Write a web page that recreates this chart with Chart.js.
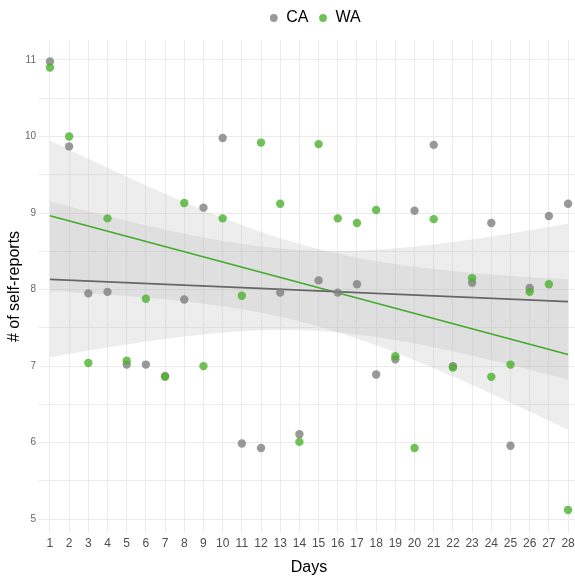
<!DOCTYPE html>
<html>
<head>
<meta charset="utf-8">
<script src="https://cdn.jsdelivr.net/npm/chart.js@4.4.0/dist/chart.umd.min.js"></script>
<style>
  html, body { margin: 0; padding: 0; background: #fff; overflow: hidden; }
  canvas { display: block; }
</style>
</head>
<body>
<canvas id="myChart" width="630" height="579" style="width:630px;height:579px"></canvas>
<script>
'use strict';

// values
let days = [1, 2, 3, 4, 5, 6, 7, 8, 9, 10, 11, 12, 13, 14, 15, 16, 17, 18, 19, 20, 21, 22, 23, 24, 25, 26, 27, 28];
let caValues = [10.98, 9.87, 7.95, 7.97, 7.02, 7.02, 6.87, 7.87, 9.07, 9.98, 5.99, 5.93, 7.96, 6.11, 8.12, 7.96, 8.07, 6.89, 7.09, 9.03, 9.89, 7.00, 8.09, 8.87, 5.96, 8.02, 8.96, 9.12];
let waValues = [10.90, 10.00, 7.04, 8.93, 7.07, 7.88, 6.86, 9.13, 7.00, 8.93, 7.92, 9.92, 9.12, 6.01, 9.90, 8.93, 8.87, 9.04, 7.13, 5.93, 8.92, 6.98, 8.15, 6.86, 7.02, 7.97, 8.07, 5.12];
let seriesNames = ['CA', 'WA'];
let yGridLines = [5, 5.5, 6, 6.5, 7, 7.5, 8, 8.5, 9, 9.5, 10, 10.5, 11];
let yTickLabels = [5, 6, 7, 8, 9, 10, 11];

// t quantile for the 95% band, 26 degrees of freedom
let tValue = 2.0555;

let ctx = document.getElementById('myChart').getContext('2d');
Chart.defaults.font.family = "'Liberation Sans', Arial, sans-serif";

// least squares fit, like geom_smooth(method = 'lm')
function linearFit(xs, ys) {
  let n = xs.length;
  let xMean = xs.reduce((s, v) => s + v, 0) / n;
  let yMean = ys.reduce((s, v) => s + v, 0) / n;
  let sxx = 0;
  let sxy = 0;
  for (let i = 0; i < n; i++) {
    sxx += (xs[i] - xMean) ** 2;
    sxy += (xs[i] - xMean) * (ys[i] - yMean);
  }
  let slope = sxy / sxx;
  let intercept = yMean - slope * xMean;
  let sse = 0;
  for (let i = 0; i < n; i++) {
    sse += (ys[i] - intercept - slope * xs[i]) ** 2;
  }
  return { n, xMean, sxx, slope, intercept, sigma: Math.sqrt(sse / (n - 2)) };
}

function fitAt(fit, x) {
  return fit.intercept + fit.slope * x;
}

function halfWidth(fit, x) {
  return tValue * fit.sigma * Math.sqrt(1 / fit.n + (x - fit.xMean) ** 2 / fit.sxx);
}

let caFit = linearFit(days, caValues);
let waFit = linearFit(days, waValues);

// x positions where the band edges get evaluated
let bandX = [];
for (let x = days[0]; x <= days[days.length - 1] + 1e-9; x += 0.25) {
  bandX.push(x);
}

function pointsOf(values) {
  return days.map((d, i) => ({ x: d, y: values[i] }));
}
function lineOf(fit) {
  let first = days[0];
  let last = days[days.length - 1];
  return [{ x: first, y: fitAt(fit, first) }, { x: last, y: fitAt(fit, last) }];
}
function bandEdge(fit, sign) {
  return bandX.map(x => ({ x: x, y: fitAt(fit, x) + sign * halfWidth(fit, x) }));
}

let bandColor = 'rgba(185,185,185,0.25)';

function bandSet(data, fill) {
  return {
    data: data,
    showLine: true,
    fill: fill,
    backgroundColor: bandColor,
    borderColor: 'transparent',
    borderWidth: 0,
    pointRadius: 0,
    order: 10
  };
}

let myChart = new Chart(ctx, {
  type: 'scatter',
  data: {
    datasets: [{
      label: seriesNames[0],
      data: pointsOf(caValues),
      backgroundColor: 'rgba(128,128,128,0.8)',
      borderWidth: 0,
      pointRadius: 4.2,
      order: 2
    }, {
      label: seriesNames[1],
      data: pointsOf(waValues),
      backgroundColor: 'rgba(76,178,46,0.8)',
      borderWidth: 0,
      pointRadius: 4.2,
      order: 1
    }, {
      data: lineOf(caFit),
      showLine: true,
      borderColor: '#676767',
      borderWidth: 1.6,
      pointRadius: 0,
      order: 5
    }, {
      data: lineOf(waFit),
      showLine: true,
      borderColor: '#43ab2c',
      borderWidth: 1.6,
      pointRadius: 0,
      order: 5
    },
    bandSet(bandEdge(caFit, 1), '+1'),
    bandSet(bandEdge(caFit, -1), false),
    bandSet(bandEdge(waFit, 1), '+1'),
    bandSet(bandEdge(waFit, -1), false)]
  },
  options: {
    responsive: false,
    animation: false,
    events: [],
    layout: { padding: 0 },
    plugins: {
      tooltip: { enabled: false },
      legend: {
        position: 'top',
        labels: {
          filter: item => item.datasetIndex < 2,
          sort: (a, b) => a.datasetIndex - b.datasetIndex,
          usePointStyle: true,
          pointStyle: 'circle',
          boxWidth: 9,
          boxHeight: 5.5,
          padding: 10,
          color: '#000',
          font: { size: 16 }
        }
      }
    },
    scales: {
      x: {
        type: 'linear',
        min: 0.43,
        max: 28.57,
        afterBuildTicks: s => { s.ticks = days.map(d => ({ value: d })); },
        afterFit: s => { s.height = 46; },
        grid: { color: '#ebebeb', lineWidth: 1, drawTicks: false },
        border: { display: false },
        ticks: { autoSkip: false, maxRotation: 0, padding: 3, color: '#4d4d4d', font: { size: 12 } },
        title: { display: true, text: 'Days', color: '#000', font: { size: 16 }, padding: { top: 0, bottom: 2 } }
      },
      y: {
        type: 'linear',
        min: 4.82,
        max: 11.26,
        afterBuildTicks: s => { s.ticks = yGridLines.map(v => ({ value: v })); },
        afterFit: s => { s.width = 39; },
        grid: { color: '#ebebeb', lineWidth: 1, drawTicks: false },
        border: { display: false },
        ticks: {
          autoSkip: false,
          padding: 3,
          color: '#666',
          font: { size: 10 },
          callback: v => (yTickLabels.includes(v) ? String(v) : '')
        },
        title: { display: true, text: '# of self-reports', color: '#000', font: { size: 16 }, padding: { top: 5, bottom: 0 } }
      },
      // empty boxes that only hold space, so the panel sits where the reference has it
      xTopSpace: {
        type: 'linear',
        axis: 'x',
        position: 'top',
        display: true,
        grid: { display: false },
        border: { display: false },
        ticks: { display: false },
        afterFit: s => { s.height = 4; }
      },
      yRightSpace: {
        type: 'linear',
        axis: 'y',
        position: 'right',
        display: true,
        grid: { display: false },
        border: { display: false },
        ticks: { display: false },
        afterFit: s => { s.width = 51; }
      }
    }
  }
});
</script>
</body>
</html>
